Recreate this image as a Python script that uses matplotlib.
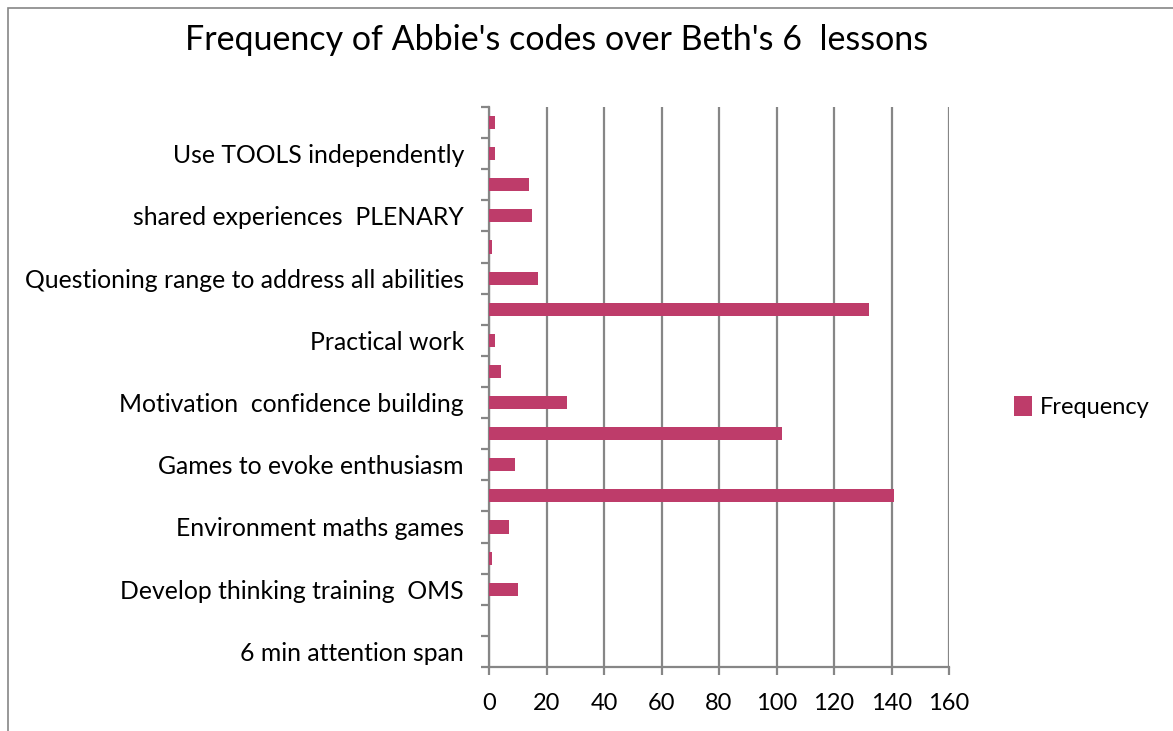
import matplotlib
matplotlib.use("Agg")
import matplotlib.pyplot as plt
from matplotlib.patches import Rectangle
import numpy as np

plt.rcParams['font.family'] = ['Lato', 'DejaVu Sans']

# categories bottom -> top; odd ones are not labelled in the original chart
categories = [
    "6 min attention span", "",
    "Develop thinking training  OMS", "",
    "Environment maths games", "",
    "Games to evoke enthusiasm", "",
    "Motivation  confidence building", "",
    "Practical work", "",
    "Questioning range to address all abilities", "",
    "shared experiences  PLENARY", "",
    "Use TOOLS independently", "",
]
frequency = [0, 0, 10, 1, 7, 141, 9, 102, 27, 4, 2, 132, 17, 1, 15, 14, 2, 2]
x_ticks = [0, 20, 40, 60, 80, 100, 120, 140, 160]

bar_color = '#BE3C6A'
axis_gray = '#868686'

fig = plt.figure(figsize=(11.73, 7.31), dpi=100)
ax = fig.add_axes([489 / 1173, 1 - 667 / 731, 460 / 1173, 560 / 731])

pos = np.arange(len(categories))
ax.barh(pos, frequency, height=0.42, color=bar_color, linewidth=0,
        label='Frequency', zorder=3)

ax.set_xlim(0, 160)
ax.set_ylim(-0.5, len(categories) - 0.5)
ax.set_xticks(x_ticks)
ax.set_xticklabels([str(v) for v in x_ticks], fontsize=17)
ax.xaxis.grid(True, color=axis_gray, linewidth=1.6, zorder=0)

# major ticks at the category boundaries, labels on minor ticks
ax.set_yticks(np.arange(-0.5, len(categories), 1.0))
ax.set_yticklabels([])
ax.set_yticks(pos, minor=True)
ax.set_yticklabels(categories, minor=True, fontsize=17.8)
ax.tick_params(axis='y', which='major', length=6, width=1.6, color=axis_gray)
ax.tick_params(axis='y', which='minor', length=0, pad=18)
ax.tick_params(axis='x', length=6, width=1.6, color=axis_gray, pad=13)

for side in ['top', 'right']:
    ax.spines[side].set_visible(False)
for side in ['left', 'bottom']:
    ax.spines[side].set_color(axis_gray)
    ax.spines[side].set_linewidth(1.6)

fig.text(557 / 1173, 1 - 40 / 731, "Frequency of Abbie's codes over Beth's 6  lessons",
         ha='center', va='center', fontsize=24.5)

fig.legend(loc='center left', bbox_to_anchor=(993 / 1173, 1 - 407 / 731),
           frameon=False, fontsize=17, handlelength=0.75, handleheight=0.9,
           handletextpad=0.35)

# chart area border (cropped at right and bottom)
fig.patches.append(Rectangle((8 / 1173, -0.1), 1.2, 1 - 8 / 731 + 0.1,
                             transform=fig.transFigure, fill=False,
                             edgecolor=axis_gray, linewidth=1.2))

fig.savefig('out.png', dpi=100)
